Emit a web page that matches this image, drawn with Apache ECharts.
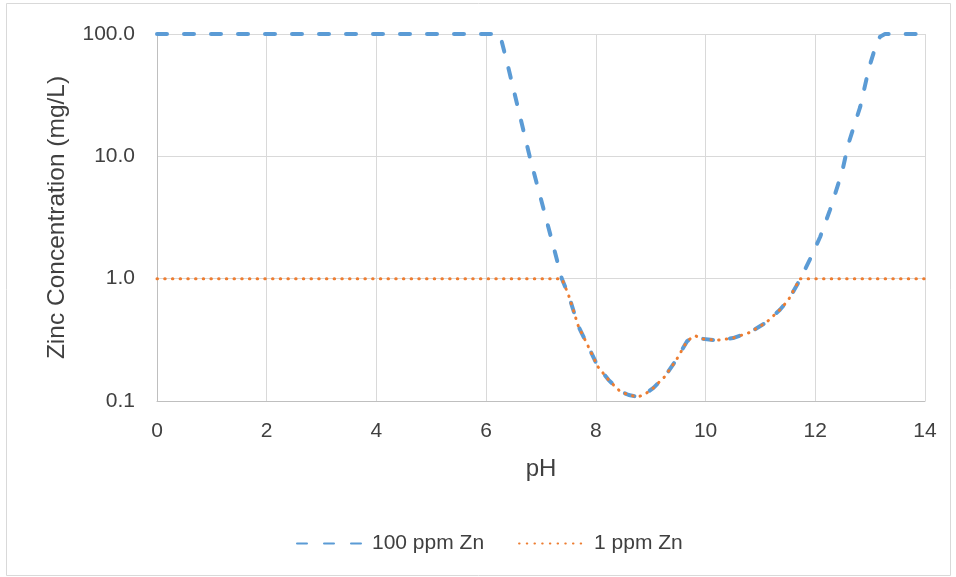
<!DOCTYPE html>
<html><head><meta charset="utf-8">
<script src="https://cdn.jsdelivr.net/npm/echarts@6/dist/echarts.min.js"></script>
<style>html,body{margin:0;padding:0;background:#fff}#c{width:956px;height:577px}</style>
</head><body><div id="c"></div>
<script>
var pH    = [0,   6.1, 6.25, 6.4, 6.6,  6.8, 7.0,  7.2,  7.38, 7.5,  7.68, 7.86, 8.04, 8.23,  8.44, 8.6,   8.77,  8.9,   9.05,  9.26,  9.47,  9.66,  9.75, 9.81,  9.93,  10.2,  10.5,  10.81, 11.11, 11.36, 11.51, 11.72, 11.9, 12.09, 12.27, 12.49, 12.6, 12.82, 12.98, 13.11, 13.18, 13.27, 14];
var zn100 = [100, 100, 100,  54,  22.9, 9.7, 4.45, 2.04, 1.0,  0.74, 0.41, 0.28, 0.19, 0.149, 0.12, 0.112, 0.108, 0.114, 0.128, 0.159, 0.218, 0.307, 0.33, 0.342, 0.323, 0.313, 0.327, 0.364, 0.44,  0.56,  0.67,  0.98,  1.43, 2.2,   3.67,  7.5,   12.5, 25.5,  53,    82,    95,    100,   100];
var zn1   = [1,   1,   1,    1,   1,    1,   1,    1,    1.0,  0.74, 0.41, 0.28, 0.19, 0.149, 0.12, 0.112, 0.108, 0.114, 0.128, 0.159, 0.218, 0.307, 0.33, 0.342, 0.323, 0.313, 0.327, 0.364, 0.44,  0.56,  0.67,  1.0,   1,    1,     1,     1,     1,    1,     1,     1,     1,     1,     1];
var seriesNames = ['100 ppm Zn', '1 ppm Zn'];
var xTitle = 'pH';
var yTitle = 'Zinc Concentration (mg/L)';

function pairs(xs, ys){ return xs.map(function(x,i){ return [x, ys[i]]; }); }

var font = 'Liberation Sans';
var txt = '#404040';
var chart = echarts.init(document.getElementById('c'), null, {renderer:'canvas'});
chart.setOption({
  animation:false,
  backgroundColor:'#fff',
  graphic:[{type:'rect', shape:{x:6.5,y:3.5,width:944,height:572}, style:{fill:'none', stroke:'#d9d9d9', lineWidth:1}, silent:true}],
  grid:{left:157, right:31, top:34, bottom:176},
  legend:{
    left:291, top:528, itemWidth:68, itemHeight:14, itemGap:34,
    itemStyle:{opacity:0},
    textStyle:{fontFamily:font, fontSize:21, color:txt, padding:[0,0,0,2]},
    data:seriesNames
  },
  xAxis:{
    type:'value', min:0, max:14, interval:2,
    name:xTitle, nameLocation:'middle', nameGap:56,
    nameTextStyle:{fontFamily:font, fontSize:24, color:txt},
    axisLine:{show:true, lineStyle:{color:'#bfbfbf'}},
    axisTick:{show:false},
    axisLabel:{fontFamily:font, fontSize:21, color:txt, margin:20},
    splitLine:{show:true, lineStyle:{color:'#d9d9d9', width:1}}
  },
  yAxis:{
    type:'log', logBase:10, min:0.1, max:100,
    name:yTitle, nameLocation:'middle', nameGap:87, nameRotate:90,
    nameTextStyle:{fontFamily:font, fontSize:24.5, color:txt},
    axisLine:{show:true, lineStyle:{color:'#bfbfbf'}},
    axisTick:{show:false},
    axisLabel:{fontFamily:font, fontSize:21, color:txt, margin:22, formatter:function(v){return Number(v).toFixed(1);}},
    splitLine:{show:true, lineStyle:{color:'#d9d9d9', width:1}}
  },
  series:[
    {name:seriesNames[0], type:'line', data:pairs(pH, zn100), symbol:'none', smooth:false,
     lineStyle:{color:'#5B9BD5', width:4, type:[10,17], cap:'round'}, itemStyle:{color:'#5B9BD5'}, z:2},
    {name:seriesNames[1], type:'line', data:pairs(pH, zn1), symbol:'none', smooth:false,
     lineStyle:{color:'#ED7D31', width:3, type:[0.5,7.2], cap:'round'}, itemStyle:{color:'#ED7D31'}, z:3}
  ]
});
</script></body></html>
